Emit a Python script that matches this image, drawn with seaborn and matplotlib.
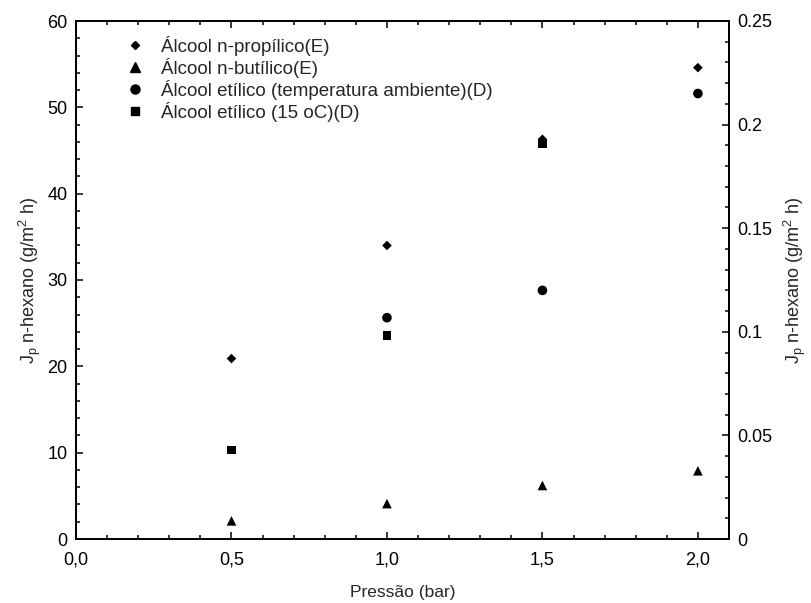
import matplotlib
matplotlib.use("Agg")
import matplotlib.pyplot as plt
from matplotlib.ticker import MultipleLocator, FuncFormatter
from matplotlib.lines import Line2D
import seaborn as sns
import pandas as pd

# Permeate flux of n-hexane versus transmembrane pressure
pressao = [0.5, 1.0, 1.5, 2.0]
propilico_E = [20.9, 34.0, 46.3, 54.6]      # left axis
butilico_E = [2.1, 4.1, 6.2, 7.9]           # left axis
pressao_etil_amb = [1.0, 1.5, 2.0]
etilico_amb_D = [0.1068, 0.120, 0.215]      # right axis
pressao_etil_15 = [0.5, 1.0, 1.5]
etilico_15_D = [0.043, 0.0984, 0.191]       # right axis

labels = [
    "Álcool n-propílico(E)",
    "Álcool n-butílico(E)",
    "Álcool etílico (temperatura ambiente)(D)",
    "Álcool etílico (15 oC)(D)",
]

sns.set_theme(style="ticks")
plt.rcParams["font.family"] = ["Liberation Sans", "DejaVu Sans"]
plt.rcParams["mathtext.fontset"] = "custom"
plt.rcParams["mathtext.rm"] = "Liberation Sans"
plt.rcParams["mathtext.it"] = "Liberation Sans:italic"

fig = plt.figure(figsize=(8.12, 6.03), dpi=100)
ax = fig.add_axes([76 / 812, 64 / 603, (729 - 76) / 812, (539 - 21) / 603])
ax2 = ax.twinx()

df_l1 = pd.DataFrame({"x": pressao, "y": propilico_E})
df_l2 = pd.DataFrame({"x": pressao, "y": butilico_E})
df_r1 = pd.DataFrame({"x": pressao_etil_amb, "y": etilico_amb_D})
df_r2 = pd.DataFrame({"x": pressao_etil_15, "y": etilico_15_D})

kw = dict(color="black", edgecolor="none", legend=False)
sns.scatterplot(data=df_l1, x="x", y="y", ax=ax, marker="D", s=24, **kw)
sns.scatterplot(data=df_l2, x="x", y="y", ax=ax, marker="^", s=48, **kw)
sns.scatterplot(data=df_r1, x="x", y="y", ax=ax2, marker="o", s=48, **kw)
sns.scatterplot(data=df_r2, x="x", y="y", ax=ax2, marker="s", s=40, **kw)

ax.set_xlim(0, 2.1)
ax.set_ylim(0, 60)
ax2.set_ylim(0, 0.25)

ax.xaxis.set_major_locator(MultipleLocator(0.5))
ax.xaxis.set_minor_locator(MultipleLocator(0.1))
ax.yaxis.set_major_locator(MultipleLocator(10))
ax.yaxis.set_minor_locator(MultipleLocator(2))
ax2.yaxis.set_major_locator(MultipleLocator(0.05))
ax2.yaxis.set_minor_locator(MultipleLocator(0.01))

ax.xaxis.set_major_formatter(FuncFormatter(lambda v, p: f"{v:.1f}".replace(".", ",")))
ax.yaxis.set_major_formatter(FuncFormatter(lambda v, p: f"{v:g}"))
ax2.yaxis.set_major_formatter(FuncFormatter(lambda v, p: f"{round(v, 3):g}"))

for a in (ax, ax2):
    for s in a.spines.values():
        s.set_linewidth(1.3)
        s.set_color("black")

ax.tick_params(axis="x", which="both", direction="in", top=True, bottom=True,
               labelsize=13, pad=9, colors="black")
ax.tick_params(axis="y", which="both", direction="in", left=True, right=False,
               labelsize=13, pad=6, colors="black")
ax2.tick_params(axis="y", which="both", direction="in", right=True,
                labelsize=13, pad=6, colors="black")
for a in (ax, ax2):
    a.tick_params(which="major", length=5, width=1.1)
    a.tick_params(which="minor", length=3, width=1.1)

ylab = r"J$_\mathregular{p}$ n-hexano (g/m$^\mathregular{2}$ h)"
ax.set_xlabel("Pressão (bar)", fontsize=12.5, labelpad=12)
ax.set_ylabel(ylab, fontsize=13, labelpad=3)
ax2.set_ylabel(ylab, fontsize=13, labelpad=7)

handles = [
    Line2D([], [], ls="none", marker="D", color="black", markersize=4.5),
    Line2D([], [], ls="none", marker="^", color="black", markersize=6.5),
    Line2D([], [], ls="none", marker="o", color="black", markersize=6.5),
    Line2D([], [], ls="none", marker="s", color="black", markersize=6),
]
ax.legend(handles, labels, loc="upper left", bbox_to_anchor=(0.05, 1.0),
          frameon=False, fontsize=13.5, handletextpad=0.8, labelspacing=0.1,
          handlelength=1.2, borderpad=0.3)

fig.savefig("out.png", dpi=100)
